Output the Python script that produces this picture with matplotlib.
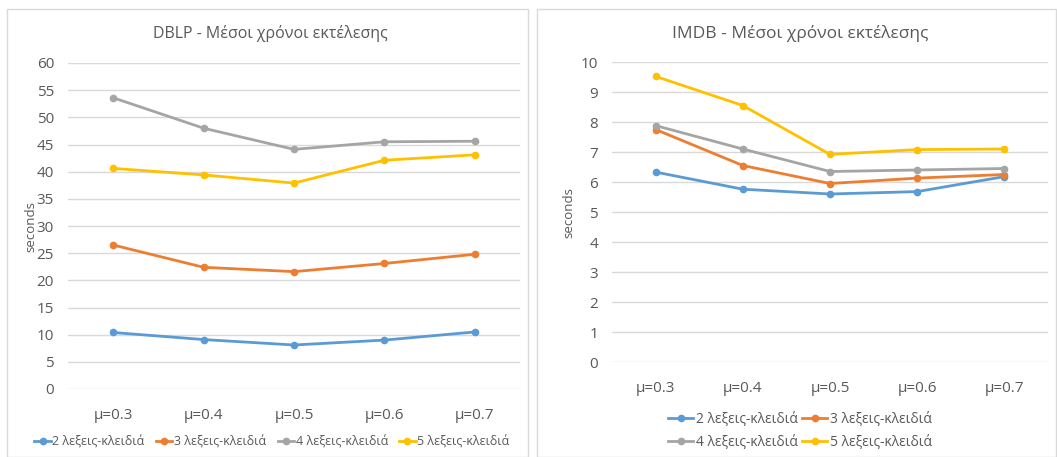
import matplotlib
matplotlib.use("Agg")
import matplotlib.pyplot as plt
from matplotlib.patches import Rectangle

plt.rcParams['font.family'] = ['Open Sans', 'DejaVu Sans']

categories = ["μ=0.3", "μ=0.4", "μ=0.5", "μ=0.6", "μ=0.7"]
series_names = ["2 λεξεις-κλειδιά", "3 λεξεις-κλειδιά", "4 λεξεις-κλειδιά", "5 λεξεις-κλειδιά"]
colors = ["#5b9bd5", "#ed7d31", "#a5a5a5", "#ffc000"]

dblp_2 = [10.4, 9.1, 8.1, 9.0, 10.5]
dblp_3 = [26.5, 22.4, 21.6, 23.1, 24.8]
dblp_4 = [53.6, 48.0, 44.1, 45.5, 45.6]
dblp_5 = [40.6, 39.4, 37.9, 42.1, 43.1]

imdb_2 = [6.33, 5.76, 5.60, 5.68, 6.18]
imdb_3 = [7.75, 6.55, 5.95, 6.13, 6.25]
imdb_4 = [7.88, 7.10, 6.35, 6.40, 6.45]
imdb_5 = [9.52, 8.55, 6.92, 7.08, 7.10]

W, H = 1057, 457
fig = plt.figure(figsize=(W / 100, H / 100), dpi=100)

txt = "#595959"

# panel borders
for (x0, x1) in [(7, 528), (537, 1056)]:
    fig.add_artist(Rectangle((x0 / W, 0), (x1 - x0) / W, (H - 9) / H,
                             transform=fig.transFigure, fill=False,
                             edgecolor="#d9d9d9", linewidth=1))

def make(ax, data, ymax, ystep):
    x = list(range(len(categories)))
    lines = []
    for vals, c, n in zip(data, colors, series_names):
        l, = ax.plot(x, vals, color=c, lw=2, marker="o", ms=4.5, label=n, zorder=3)
        lines.append(l)
    ax.set_xlim(-0.5, len(categories) - 0.5)
    ax.set_ylim(0, ymax)
    ax.set_yticks([i * ystep for i in range(int(ymax / ystep) + 1)])
    ax.set_xticks(x)
    ax.set_xticklabels(categories)
    ax.grid(axis="y", color="#d9d9d9", lw=1)
    ax.set_axisbelow(True)
    for s in ax.spines.values():
        s.set_visible(False)
    ax.tick_params(length=0, colors=txt, labelsize=11)
    ax.tick_params(axis="x", pad=14)
    ax.tick_params(axis="y", pad=10)
    ax.set_ylabel("seconds", color=txt, fontsize=9.5)
    return lines

ax1 = fig.add_axes([68 / W, (H - 389) / H, (520 - 68) / W, (389 - 63) / H])
lines1 = make(ax1, [dblp_2, dblp_3, dblp_4, dblp_5], 60, 5)
ax1.yaxis.set_label_coords(-0.068, 0.5)

ax2 = fig.add_axes([612 / W, (H - 362) / H, (1048 - 612) / W, (362 - 62) / H])
lines2 = make(ax2, [imdb_2, imdb_3, imdb_4, imdb_5], 10, 1)
ax2.yaxis.set_label_coords(-0.085, 0.5)

fig.text(270 / W, 1 - 33 / H, "DBLP - Μέσοι χρόνοι εκτέλεσης", ha="center", va="center",
         color=txt, fontsize=11.5)
fig.text(800 / W, 1 - 33 / H, "IMDB - Μέσοι χρόνοι εκτέλεσης", ha="center", va="center",
         color=txt, fontsize=12.5)

leg1 = fig.legend(handles=lines1, loc="center", bbox_to_anchor=(272 / W, 1 - 442 / H),
                  ncol=4, frameon=False, fontsize=9, handlelength=1.3, handletextpad=0.15,
                  columnspacing=0.9, labelcolor=txt)
order = [0, 2, 1, 3]
leg2 = fig.legend(handles=[lines2[i] for i in order], loc="center",
                  bbox_to_anchor=(800 / W, 1 - 431 / H),
                  ncol=2, frameon=False, fontsize=10, handlelength=1.8, handletextpad=0.2,
                  columnspacing=0.3, labelspacing=0.6, labelcolor=txt)

fig.savefig("out.png", dpi=100)
